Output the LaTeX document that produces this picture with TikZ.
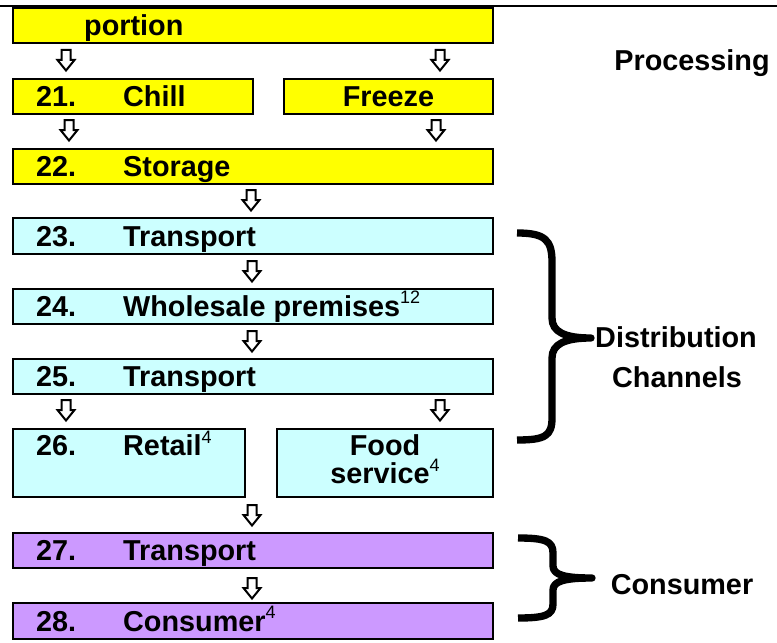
\documentclass[tikz,border=0pt]{standalone}
\usepackage{fontspec}
\setmainfont{Liberation Sans}
\usetikzlibrary{calc,fit}

\definecolor{procyellow}{HTML}{FFFF00}
\definecolor{distcyan}{HTML}{CCFFFF}
\definecolor{conspurple}{HTML}{CC99FF}

% raised footnote number after a label
\newcommand{\notemark}[1]{\raisebox{9.5pt}{\mdseries\fontsize{13.5pt}{13.5pt}\selectfont #1}}

\begin{document}
\begin{tikzpicture}[x=0.75pt,y=-0.75pt,
  stagebox/.style={draw=black,line width=1.6pt,rectangle,inner sep=0pt},
  proc/.style={stagebox,fill=procyellow},
  dist/.style={stagebox,fill=distcyan},
  cons/.style={stagebox,fill=conspurple},
  boxtext/.style={font=\bfseries\fontsize{21.6pt}{21.6pt}\selectfont,inner sep=0pt,anchor=base west},
  sidetext/.style={font=\bfseries\fontsize{21.6pt}{21.6pt}\selectfont,inner sep=0pt,anchor=base},
  bracestroke/.style={line width=5.5pt,line cap=butt,line join=round},
  hollowdown/.pic={\draw[line width=1.5pt,fill=white,line join=miter]
      (-4.5,-10) -- (4.5,-10) -- (4.5,0) -- (8.5,0) -- (0,10.5) -- (-8.5,0) -- (-4.5,0) -- cycle;}
]
\useasboundingbox (0,0) rectangle (777,642);

% rule across the top
\draw[line width=1.8pt] (0,6) -- (777,6);

% ---- processing stages ----
\node[proc,fit={(13,8) (493,43)}] (portion) {};
\node[proc,fit={(13,79) (253,114)}] (chill) {};
\node[proc,fit={(284,79) (493,114)}] (freeze) {};
\node[proc,fit={(13,149) (493,184)}] (storage) {};

% ---- distribution stages ----
\node[dist,fit={(13,218) (493,254)}] (trans23) {};
\node[dist,fit={(13,289) (493,324)}] (whole) {};
\node[dist,fit={(13,359) (493,394)}] (trans25) {};
\node[dist,fit={(13,429) (245,497)}] (retail) {};
\node[dist,fit={(277,429) (493,497)}] (food) {};

% ---- consumer stages ----
\node[cons,fit={(13,533) (493,568)}] (trans27) {};
\node[cons,fit={(13,603) (493,639)}] (consumer) {};

% ---- box texts ----
\node[boxtext] (portionT) at ($(portion.west)+(72,10.5)$) {portion};

\node[boxtext] (chillN) at ($(chill.west)+(24,10)$) {21.};
\node[boxtext] (chillT) at ($(chill.west)+(111,10)$) {Chill};
\node[boxtext,anchor=base] (freezeT) at ($(freeze.center)+(0,10)$) {Freeze};

\node[boxtext] (storageN) at ($(storage.west)+(24,10)$) {22.};
\node[boxtext] (storageT) at ($(storage.west)+(111,10)$) {Storage};

\node[boxtext] (trans23N) at ($(trans23.west)+(24,10)$) {23.};
\node[boxtext] (trans23T) at ($(trans23.west)+(111,10)$) {Transport};

\node[boxtext] (wholeN) at ($(whole.west)+(24,10)$) {24.};
\node[boxtext] (wholeT) at ($(whole.west)+(111,10)$) {Wholesale premises\notemark{12}};

\node[boxtext] (trans25N) at ($(trans25.west)+(24,10)$) {25.};
\node[boxtext] (trans25T) at ($(trans25.west)+(111,10)$) {Transport};

\node[boxtext] (retailN) at ($(retail.north west)+(24,28)$) {26.};
\node[boxtext] (retailT) at ($(retail.north west)+(111,28)$) {Retail\notemark{4}};

\node[boxtext,anchor=base] (foodA) at ($(food.north)+(0,28)$) {Food};
\node[boxtext,anchor=base] (foodB) at ($(food.north)+(0,56)$) {service\notemark{4}};

\node[boxtext] (trans27N) at ($(trans27.west)+(24,10)$) {27.};
\node[boxtext] (trans27T) at ($(trans27.west)+(111,10)$) {Transport};

\node[boxtext] (consumerN) at ($(consumer.west)+(24,10)$) {28.};
\node[boxtext] (consumerT) at ($(consumer.west)+(111,10)$) {Consumer\notemark{4}};

% ---- flow arrows ----
\pic at (66,60) {hollowdown};
\pic at (440,60) {hollowdown};
\pic at (69,130) {hollowdown};
\pic at (436,130) {hollowdown};
\pic at (251,200) {hollowdown};
\pic at (252,271) {hollowdown};
\pic at (252,341) {hollowdown};
\pic at (66,410) {hollowdown};
\pic at (440,410) {hollowdown};
\pic at (252,515) {hollowdown};
\pic at (252,588) {hollowdown};

% ---- section labels and braces ----
\node[sidetext] (procL) at (692,70) {Processing};

\draw[bracestroke] (517,233) .. controls (545,233) and (552,240) .. (552,262)
  -- (552,318) .. controls (552,332) and (565,338) .. (591,338)
  .. controls (565,338) and (552,344) .. (552,358)
  -- (552,418) .. controls (552,436) and (545,440) .. (517,440);
\node[sidetext] (distA) at (676,347) {Distribution};
\node[sidetext] (distB) at (677,387) {Channels};

\draw[bracestroke] (518,538) .. controls (545,538) and (553,541) .. (553,553)
  -- (553,566) .. controls (553,575) and (565,578) .. (592,578)
  .. controls (565,578) and (553,581) .. (553,590)
  -- (553,604) .. controls (553,615) and (545,618) .. (518,618);
\node[sidetext] (consL) at (682,594) {Consumer};
\end{tikzpicture}
\end{document}
